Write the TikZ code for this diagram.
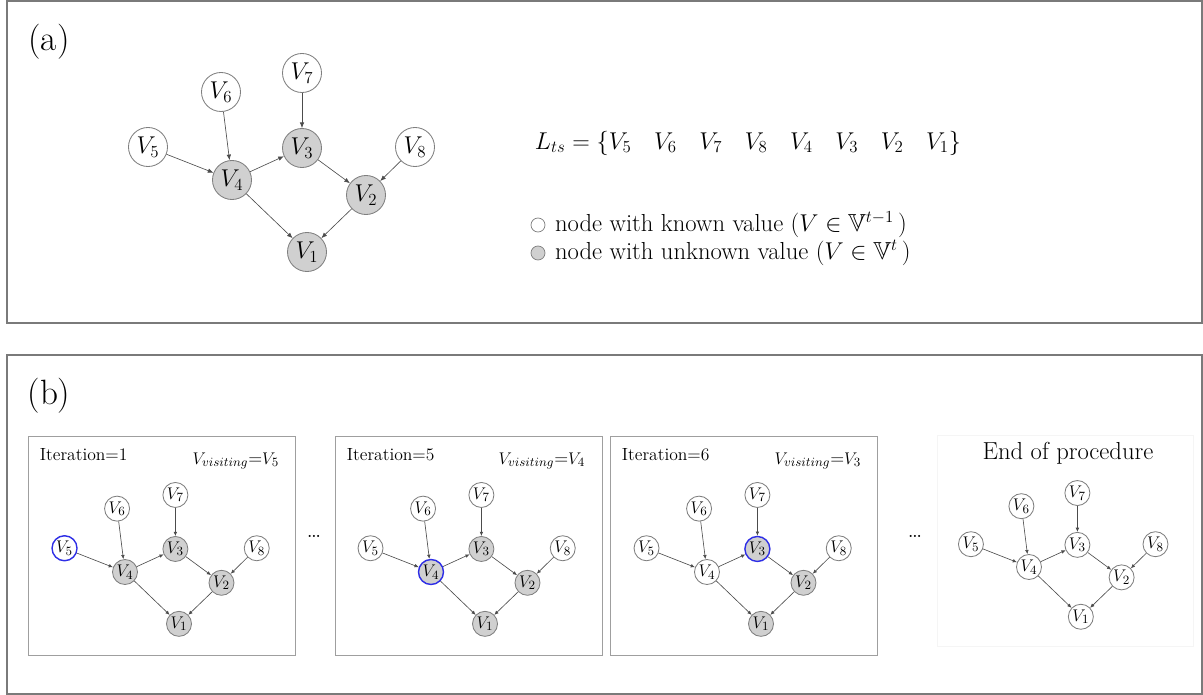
\documentclass[tikz,border=0pt]{standalone}
\usepackage{amsmath,amssymb}
\usetikzlibrary{arrows.meta, positioning}
\definecolor{nodeGray}{HTML}{D0D0D0}
\definecolor{lineGray}{HTML}{7F7F7F}
\definecolor{frameGray}{HTML}{7A7A7A}
\definecolor{visitBlue}{HTML}{2E2EE6}
\tikzset{
  vnode/.style={circle, draw=lineGray, line width=0.6pt, inner sep=0pt,
                minimum size=0.975cm, font=\fontsize{16.5}{19}\selectfont},
  known/.style={vnode, fill=white},
  unknown/.style={vnode, fill=nodeGray},
  visit/.style={draw=visitBlue, line width=1pt},
  edgeA/.style={-{Latex[length=4pt,width=3.2pt]}, draw=black!70, line width=0.45pt},
  frameA/.style={draw=frameGray, line width=0.8pt},
  frameB/.style={draw=gray!75, line width=0.6pt},
  smallnet/.style={scale=0.72,
                   vnode/.append style={minimum size=0.625cm, font=\fontsize{12.5}{14}\selectfont},
                   edgeA/.append style={-{Latex[length=3pt,width=2.6pt]}}},
  iterText/.style={anchor=west, font=\fontsize{12.5}{15}\selectfont},
  visText/.style={anchor=east, font=\fontsize{13}{15}\selectfont},
}
% the DAG: #1 prefix, #2 scope options, #3..#7 styles of V1..V5
\newcommand{\dagnet}[7]{%
  \begin{scope}[#2]
    \node[#6] (#1v4) at (0,0) {$V_4$};
    \node[#7] (#1v5) at (-84,-33) {$V_5$};
    \node[known] (#1v6) at (-11,-88) {$V_6$};
    \node[known] (#1v7) at (70,-107) {$V_7$};
    \node[#5] (#1v3) at (70,-32) {$V_3$};
    \node[known] (#1v8) at (183,-33) {$V_8$};
    \node[#4] (#1v2) at (134,15) {$V_2$};
    \node[#3] (#1v1) at (75,72) {$V_1$};
    \draw[edgeA] (#1v5) -- (#1v4);
    \draw[edgeA] (#1v6) -- (#1v4);
    \draw[edgeA] (#1v7) -- (#1v3);
    \draw[edgeA] (#1v4) -- (#1v3);
    \draw[edgeA] (#1v4) -- (#1v1);
    \draw[edgeA] (#1v3) -- (#1v2);
    \draw[edgeA] (#1v8) -- (#1v2);
    \draw[edgeA] (#1v2) -- (#1v1);
  \end{scope}}

\begin{document}
\begin{tikzpicture}[x=0.025cm, y=-0.025cm]
  \useasboundingbox (0,0) rectangle (1203,695);

  % (a)
  \draw[frameA] (7,1) rectangle (1202,323);
  \node[font=\fontsize{25}{30}\selectfont] (labA) at (49,42) {(a)};
  \dagnet{a}{shift={(232,180)}}{unknown}{unknown}{unknown}{unknown}{known}
  \node[anchor=west, font=\fontsize{16.5}{20}\selectfont] (lts) at (530,143)
    {$L_{ts}=\{V_5\hspace{16pt}V_6\hspace{16pt}V_7\hspace{16pt}V_8\hspace{16pt}V_4\hspace{16pt}V_3\hspace{16pt}V_2\hspace{16pt}V_1\}$};
  \node[circle, draw=lineGray, fill=white, line width=0.5pt, minimum size=0.35cm, inner sep=0pt] (kn) at (538,225) {};
  \node[circle, draw=lineGray, fill=nodeGray, line width=0.5pt, minimum size=0.35cm, inner sep=0pt] (ukn) at (538,253) {};
  \node[right=0.12cm of kn, font=\fontsize{17.5}{20}\selectfont] (knT)
    {node with known value ($V\in\mathbb{V}^{t-1}$\,)};
  \node[right=0.12cm of ukn, font=\fontsize{17.5}{20}\selectfont] (uknT)
    {node with unknown value ($V\in\mathbb{V}^{t}$\,)};

  % (b)
  \draw[frameA] (7,355) rectangle (1202,694);
  \node[font=\fontsize{25}{30}\selectfont] (labB) at (49,396) {(b)};

  \draw[frameB] (28,436) rectangle (295,655);
  \node[iterText] (it1) at (35,455) {Iteration=1};
  \node[visText] (vis1) at (284,461) {$V_{visiting}$=$V_5$};
  \dagnet{p}{shift={(125,572)}, smallnet}{unknown}{unknown}{unknown}{unknown}{known, visit}

  \node[font=\fontsize{18}{20}\selectfont] (dots1) at (314,536) {\dots};

  \draw[frameB] (335,436) rectangle (602,655);
  \node[iterText] (it5) at (342,455) {Iteration=5};
  \node[visText] (vis5) at (590,461) {$V_{visiting}$=$V_4$};
  \dagnet{q}{shift={(431,572)}, smallnet}{unknown}{unknown}{unknown}{unknown, visit}{known}

  \draw[frameB] (610,436) rectangle (877,655);
  \node[iterText] (it6) at (617,455) {Iteration=6};
  \node[visText] (vis6) at (866,461) {$V_{visiting}$=$V_3$};
  \dagnet{r}{shift={(707,572)}, smallnet}{unknown}{unknown}{unknown, visit}{known}{known}

  \node[font=\fontsize{18}{20}\selectfont] (dots2) at (915,536) {\dots};

  \draw[draw=gray!8, line width=0.6pt] (937,435) rectangle (1193,646);
  \node[font=\fontsize{17.5}{21}\selectfont] (endT) at (1068,453) {End of procedure};
  \dagnet{s}{shift={(1029,567)}, smallnet, scale=0.96}{known}{known}{known}{known}{known}
\end{tikzpicture}
\end{document}
